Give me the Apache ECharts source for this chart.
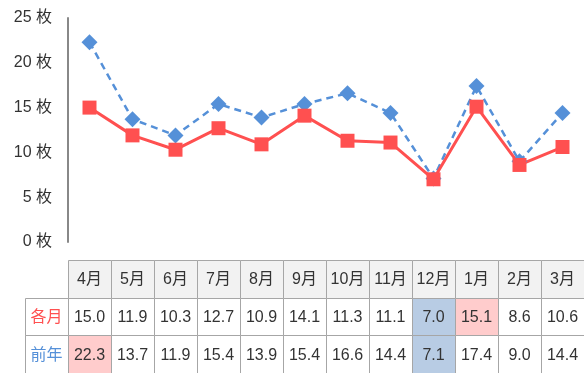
<!DOCTYPE html>
<html><head><meta charset="utf-8">
<script src="https://cdn.jsdelivr.net/npm/echarts@6/dist/echarts.min.js"></script>
<style>html,body{margin:0;padding:0;background:#fff}#c{width:584px;height:373px}</style>
</head><body><div id="c"></div>
<script>
const months = ['4月','5月','6月','7月','8月','9月','10月','11月','12月','1月','2月','3月'];
const current = [15.0, 11.9, 10.3, 12.7, 10.9, 14.1, 11.3, 11.1, 7.0, 15.1, 8.6, 10.6];
const previous = [22.3, 13.7, 11.9, 15.4, 13.9, 15.4, 16.6, 14.4, 7.1, 17.4, 9.0, 14.4];
const rowNames = ['', '各月', '前年'];
const yTicks = [0, 5, 10, 15, 20, 25];

const RED = '#ff5050', BLUE = '#5590d8';
const FONT = 'Liberation Sans, "Noto Sans CJK JP", sans-serif';

// table cells: [col, row, text, bg, color]
const cells = [];
cells.push([0, 1, rowNames[1], '#ffffff', RED]);
cells.push([0, 2, rowNames[2], '#ffffff', BLUE]);
const maxC = Math.max(...current), minC = Math.min(...current);
const maxP = Math.max(...previous), minP = Math.min(...previous);
months.forEach((m, i) => {
  cells.push([i + 1, 0, m, '#f2f2f2', '#333']);
  let bg = '#ffffff';
  if (current[i] === maxC) bg = '#ffcccc'; else if (current[i] === minC) bg = '#b8cce4';
  cells.push([i + 1, 1, current[i].toFixed(1), bg, '#333']);
  bg = '#ffffff';
  if (previous[i] === maxP) bg = '#ffcccc'; else if (previous[i] === minP) bg = '#b8cce4';
  cells.push([i + 1, 2, previous[i].toFixed(1), bg, '#333']);
});

const chart = echarts.init(document.getElementById('c'));
chart.setOption({
  animation: false,
  grid: [
    {left: 68, right: 0, top: 18, height: 224},
    {left: 25, right: 0, top: 260, height: 117}
  ],
  xAxis: [
    {gridIndex: 0, type: 'category', data: months, boundaryGap: true,
     axisLine: {show: false}, axisTick: {show: false}, axisLabel: {show: false}},
    {gridIndex: 1, type: 'category', data: [''].concat(months), show: false}
  ],
  yAxis: [
    {gridIndex: 0, type: 'value', min: yTicks[0], max: yTicks[yTicks.length - 1], interval: 5,
     axisLine: {show: true, lineStyle: {color: '#888', width: 2}},
     axisTick: {show: false}, splitLine: {show: false},
     axisLabel: {formatter: '{value} 枚', color: '#333', fontSize: 16, margin: 16, fontFamily: FONT}},
    {gridIndex: 1, type: 'category', data: ['h', 'c', 'p'], inverse: true, show: false}
  ],
  series: [
    {name: '前年', type: 'line', xAxisIndex: 0, yAxisIndex: 0, data: previous,
     symbol: 'diamond', symbolSize: 16, color: BLUE,
     lineStyle: {color: BLUE, width: 2.5, type: [7, 5]}, itemStyle: {color: BLUE}},
    {name: '各月', type: 'line', xAxisIndex: 0, yAxisIndex: 0, data: current,
     symbol: 'rect', symbolSize: 14, color: RED,
     lineStyle: {color: RED, width: 3}, itemStyle: {color: RED}},
    {type: 'custom', xAxisIndex: 1, yAxisIndex: 1, data: cells, silent: true,
     renderItem: function (params, api) {
       const c = api.coord([api.value(0), api.value(1)]);
       const s = api.size([1, 1]);
       const d = cells[params.dataIndex];
       return {
         type: 'group',
         children: [
           {type: 'rect', shape: {x: Math.round(c[0] - s[0] / 2) + 0.5, y: Math.round(c[1] - s[1] / 2) + 0.5, width: Math.round(s[0]), height: Math.round(s[1])},
            style: {fill: d[3], stroke: '#a6a6a6', lineWidth: 1}},
           {type: 'text', x: c[0], y: c[1] + 1,
            style: {text: d[2], fill: d[4], fontSize: 16, fontFamily: FONT, align: 'center', verticalAlign: 'middle'}}
         ]
       };
     }}
  ]
});
</script></body></html>
